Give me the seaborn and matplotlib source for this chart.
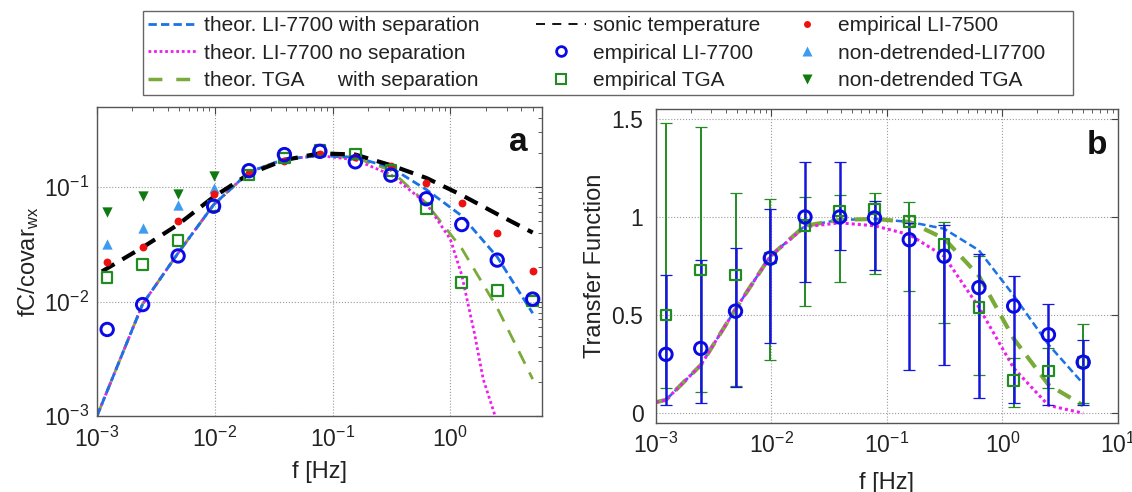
import numpy as np
import pandas as pd
import matplotlib
matplotlib.use('Agg')
import matplotlib.pyplot as plt
from matplotlib.lines import Line2D
from matplotlib.ticker import LogLocator, NullFormatter, FixedLocator, FixedFormatter
import seaborn as sns

# ---------------- data ----------------
f_emp = [0.00122, 0.00244, 0.00488, 0.00977, 0.0195, 0.039, 0.078,
         0.156, 0.3125, 0.625, 1.25, 2.5, 5.0]

# panel a: normalised cospectra
a_li7700 = [0.0057, 0.0094, 0.025, 0.068, 0.139, 0.192, 0.205,
            0.166, 0.127, 0.079, 0.047, 0.023, 0.0105]
a_tga = [0.0163, 0.021, 0.034, 0.068, 0.127, 0.18, 0.208,
         0.195, 0.140, 0.065, 0.0146, 0.0125, 0.0101]
a_li7500 = [0.022, 0.030, 0.051, 0.087, 0.132, 0.17, 0.194,
            0.183, 0.152, 0.109, 0.072, 0.040, 0.0185]
f_nd = [0.00122, 0.00244, 0.00488, 0.00977]
nd_li7700 = [0.032, 0.044, 0.069, 0.098]
nd_tga = [0.060, 0.083, 0.087, 0.126]

f_sonic = [0.0011, 0.00244, 0.00488, 0.00977, 0.0195, 0.039, 0.078,
           0.156, 0.3125, 0.625, 1.25, 2.5, 5.0]
sonic = [0.0183, 0.0297, 0.047, 0.082, 0.13, 0.172, 0.197,
         0.192, 0.155, 0.12, 0.085, 0.058, 0.040]

f_th_a = [0.001, 0.00244, 0.00488, 0.00977, 0.0195, 0.039, 0.078,
          0.156, 0.3125, 0.625, 1.25, 2.5, 5.0]
th_a_li7700_sep = [0.001, 0.0095, 0.0265, 0.070, 0.135, 0.175, 0.188,
                   0.182, 0.148, 0.095, 0.056, 0.0245, 0.0079]
th_a_tga_sep = [0.001, 0.0095, 0.0265, 0.070, 0.135, 0.175, 0.188,
                0.180, 0.140, 0.072, 0.029, 0.0088, 0.0021]
f_th_a_nosep = [0.001, 0.00244, 0.00488, 0.00977, 0.0195, 0.039, 0.078,
                0.156, 0.3125, 0.625, 1.0, 1.25, 1.6, 1.9, 2.4]
th_a_li7700_nosep = [0.001, 0.0095, 0.0265, 0.070, 0.135, 0.175, 0.188,
                     0.173, 0.128, 0.072, 0.035, 0.017, 0.0053, 0.0021, 0.001]

# panel b: transfer functions
tf_li7700 = [0.30, 0.33, 0.52, 0.79, 1.00, 1.00, 0.995, 0.884, 0.80, 0.64, 0.546, 0.40, 0.26]
tf_li7700_lo = [0.04, 0.05, 0.133, 0.36, 0.667, 0.83, 0.73, 0.22, 0.246, 0.08, 0.05, 0.04, 0.04]
tf_li7700_hi = [0.705, 0.78, 0.84, 1.04, 1.28, 1.28, 1.08, 0.97, 0.96, 0.81, 0.70, 0.555, 0.372]
tf_tga = [0.50, 0.73, 0.705, 0.79, 0.957, 1.03, 1.04, 0.978, 0.86, 0.54, 0.167, 0.215, 0.26]
tf_tga_lo = [0.13, 0.11, 0.14, 0.27, 0.546, 0.667, 0.71, 0.623, 0.46, 0.196, 0.034, 0.13, 0.05]
tf_tga_hi = [1.48, 1.46, 1.12, 1.09, 1.10, 1.11, 1.12, 1.077, 0.973, 0.80, 0.283, 0.33, 0.457]

f_th_b = [0.001, 0.00122, 0.00244, 0.00488, 0.00977, 0.0195, 0.039, 0.078,
          0.156, 0.3125, 0.625, 1.25, 2.5, 5.0]
th_b_li7700_sep = [0.056, 0.068, 0.245, 0.53, 0.80, 0.955, 0.985, 0.99,
                   0.975, 0.94, 0.83, 0.60, 0.35, 0.15]
th_b_li7700_nosep = [0.056, 0.068, 0.245, 0.53, 0.80, 0.95, 0.97, 0.955,
                     0.91, 0.80, 0.54, 0.23, 0.04, 0.0]
th_b_tga_sep = [0.056, 0.068, 0.245, 0.53, 0.80, 0.955, 0.985, 0.99,
                0.975, 0.89, 0.70, 0.38, 0.145, 0.04]

legend_labels = ["theor. LI-7700 with separation",
                 "theor. LI-7700 no separation",
                 "theor. TGA      with separation",
                 "sonic temperature",
                 "empirical LI-7700",
                 "empirical TGA",
                 "empirical LI-7500",
                 "non-detrended-LI7700",
                 "non-detrended TGA"]

# ---------------- style ----------------
sns.set_theme(style='white')
plt.rcParams['font.family'] = ['Liberation Sans', 'DejaVu Sans']
plt.rcParams['mathtext.fontset'] = 'custom'
plt.rcParams['mathtext.rm'] = 'Liberation Sans'
plt.rcParams['mathtext.it'] = 'Liberation Sans:italic'
plt.rcParams['mathtext.bf'] = 'Liberation Sans:bold'

C_TH_BLUE = '#1a72e6'
C_MAG = '#ee1eee'
C_TGA_TH = '#7aab3a'
C_CIRC = '#0a0ae6'
C_SQ = '#228b22'
C_RED = '#ee1111'
C_UP = '#3d9cf0'
C_DN = '#107a10'
TXT = '#222222'

fig = plt.figure(figsize=(11.32, 4.92), dpi=100)
axa = fig.add_axes([0.0857, 0.1545, 0.3931, 0.628])
axb = fig.add_axes([0.5795, 0.1402, 0.4081, 0.6382])

for ax in (axa, axb):
    ax.set_xscale('log')

axa.set_yscale('log')

# ---------- panel a ----------
sns.lineplot(x=f_th_a, y=th_a_tga_sep, ax=axa, color=C_TGA_TH, lw=2.0,
             linestyle=(0, (5, 3.5)), estimator=None, sort=False)
sns.lineplot(x=f_th_a_nosep, y=th_a_li7700_nosep, ax=axa, color=C_MAG, lw=2.0,
             linestyle=(0, (1, 1)), estimator=None, sort=False)
sns.lineplot(x=f_th_a, y=th_a_li7700_sep, ax=axa, color=C_TH_BLUE, lw=2.0,
             linestyle=(0, (3, 1.5)), estimator=None, sort=False)
sns.lineplot(x=f_sonic, y=sonic, ax=axa, color='black', lw=3.0,
             linestyle=(0, (3.5, 2.2)), estimator=None, sort=False)

sns.scatterplot(x=f_nd, y=nd_tga, ax=axa, marker='v', color=C_DN, s=55,
                linewidth=0, zorder=4)
sns.scatterplot(x=f_nd, y=nd_li7700, ax=axa, marker='^', color=C_UP, s=55,
                linewidth=0, zorder=4)
sns.scatterplot(x=f_emp, y=a_li7500, ax=axa, marker='o', color=C_RED, s=32,
                linewidth=0, zorder=4)
sns.scatterplot(x=f_emp, y=a_tga, ax=axa, marker='s', facecolor='none',
                edgecolor=C_SQ, s=58, linewidth=1.6, zorder=5)
sns.scatterplot(x=f_emp, y=a_li7700, ax=axa, marker='o', facecolor='none',
                edgecolor=C_CIRC, s=80, linewidth=2.1, zorder=5)

axa.set_xlim(1e-3, 6.0)
axa.set_ylim(1e-3, 0.5)
axa.xaxis.set_major_locator(FixedLocator([1e-3, 1e-2, 1e-1, 1e0]))
axa.yaxis.set_major_locator(FixedLocator([1e-3, 1e-2, 1e-1]))
axa.xaxis.set_minor_locator(LogLocator(base=10, subs=np.arange(2, 10)))
axa.yaxis.set_minor_locator(LogLocator(base=10, subs=np.arange(2, 10)))
axa.xaxis.set_minor_formatter(NullFormatter())
axa.yaxis.set_minor_formatter(NullFormatter())
axa.set_xlabel('f [Hz]', fontsize=17, color=TXT, labelpad=6)
axa.set_ylabel(r'fC/covar$_{\mathrm{wx}}$', fontsize=17, color=TXT, labelpad=2)
axa.text(0.946, 0.885, 'a', transform=axa.transAxes, ha='center', va='center',
         fontsize=24, fontweight='bold', color='#111111')

# ---------- panel b ----------
sns.lineplot(x=f_th_b, y=th_b_li7700_sep, ax=axb, color=C_TH_BLUE, lw=1.8,
             linestyle=(0, (3, 1.5)), estimator=None, sort=False)
sns.lineplot(x=f_th_b, y=th_b_tga_sep, ax=axb, color=C_TGA_TH, lw=3.0,
             linestyle=(0, (3.5, 2.2)), estimator=None, sort=False)
sns.lineplot(x=f_th_b, y=th_b_li7700_nosep, ax=axb, color=C_MAG, lw=2.2,
             linestyle=(0, (1, 1)), estimator=None, sort=False)

tga_arr = np.array(tf_tga)
li_arr = np.array(tf_li7700)
axb.errorbar(f_emp, tga_arr,
             yerr=[tga_arr - np.array(tf_tga_lo), np.array(tf_tga_hi) - tga_arr],
             fmt='none', ecolor=C_SQ, elinewidth=1.4, capsize=4.5, capthick=0.9,
             zorder=3)
axb.errorbar(f_emp, li_arr,
             yerr=[li_arr - np.array(tf_li7700_lo), np.array(tf_li7700_hi) - li_arr],
             fmt='none', ecolor='#1515e0', elinewidth=1.8, capsize=4.5, capthick=0.9,
             zorder=3)
sns.scatterplot(x=f_emp, y=tf_tga, ax=axb, marker='s', facecolor='none',
                edgecolor=C_SQ, s=58, linewidth=1.6, zorder=5)
sns.scatterplot(x=f_emp, y=tf_li7700, ax=axb, marker='o', facecolor='none',
                edgecolor=C_CIRC, s=80, linewidth=2.1, zorder=5)

axb.set_xlim(1e-3, 10)
axb.set_ylim(-0.05, 1.55)
axb.xaxis.set_major_locator(FixedLocator([1e-3, 1e-2, 1e-1, 1e0, 1e1]))
axb.xaxis.set_minor_locator(LogLocator(base=10, subs=np.arange(2, 10)))
axb.xaxis.set_minor_formatter(NullFormatter())
axb.yaxis.set_major_locator(FixedLocator([0, 0.5, 1, 1.5]))
axb.yaxis.set_major_formatter(FixedFormatter(['0', '0.5', '1', '1.5']))
axb.set_xlabel('f [Hz]', fontsize=17, color=TXT, labelpad=10)
axb.set_ylabel('Transfer Function', fontsize=17, color=TXT, labelpad=4)
axb.text(0.955, 0.885, 'b', transform=axb.transAxes, ha='center', va='center',
         fontsize=24, fontweight='bold', color='#111111')

for ax in (axa, axb):
    ax.grid(True, which='major', linestyle=':', color='#9a9a9a', linewidth=0.8)
    ax.tick_params(which='both', direction='in', top=True, right=True,
                   colors='#444444', labelcolor=TXT, labelsize=16.5)
    ax.tick_params(which='major', length=5, width=0.8, pad=6)
    ax.tick_params(which='minor', length=3, width=0.6)
    for sp in ax.spines.values():
        sp.set_color('#555555')
        sp.set_linewidth(1.0)
    ax.set_axisbelow(True)
axa.tick_params(axis='x', which='major', pad=8)
axb.tick_params(axis='y', which='major', pad=9)
axb.tick_params(axis='x', which='major', pad=7)

# ---------- legend ----------
handles = [
    Line2D([], [], color=C_TH_BLUE, lw=2.0, linestyle=(0, (3, 1.5))),
    Line2D([], [], color=C_MAG, lw=2.0, linestyle=(0, (1, 1))),
    Line2D([], [], color=C_TGA_TH, lw=2.5, linestyle=(0, (4, 4))),
    Line2D([], [], color='black', lw=1.3, linestyle=(0, (5, 4))),
    Line2D([], [], color=C_CIRC, marker='o', mfc='none', mec=C_CIRC, mew=2.0, ms=7, lw=0),
    Line2D([], [], color=C_SQ, marker='s', mfc='none', mec=C_SQ, mew=1.5, ms=6.5, lw=0),
    Line2D([], [], color=C_RED, marker='o', mec='none', ms=5, lw=0),
    Line2D([], [], color=C_UP, marker='^', mec='none', ms=7, lw=0),
    Line2D([], [], color=C_DN, marker='v', mec='none', ms=7, lw=0),
]
# trailing blanks only widen the legend columns (MATLAB-like column layout)
shown_labels = [legend_labels[0] + '      ', legend_labels[1], legend_labels[2] + '      ',
                legend_labels[3], legend_labels[4], legend_labels[5],
                legend_labels[6], legend_labels[7] + '    ', legend_labels[8]]
leg = fig.legend(handles, shown_labels, ncol=3, loc='upper left',
                 bbox_to_anchor=(143 / 1132, 1 - 11 / 492),
                 fontsize=15, frameon=True, fancybox=False, framealpha=1,
                 edgecolor='#666666', handlelength=2.4, handletextpad=0.3,
                 labelspacing=0.4, borderpad=0.25, borderaxespad=0,
                 columnspacing=1.05)
leg.get_frame().set_linewidth(1.0)
for t in leg.get_texts():
    t.set_color(TXT)

fig.savefig('out.png', dpi=100)
